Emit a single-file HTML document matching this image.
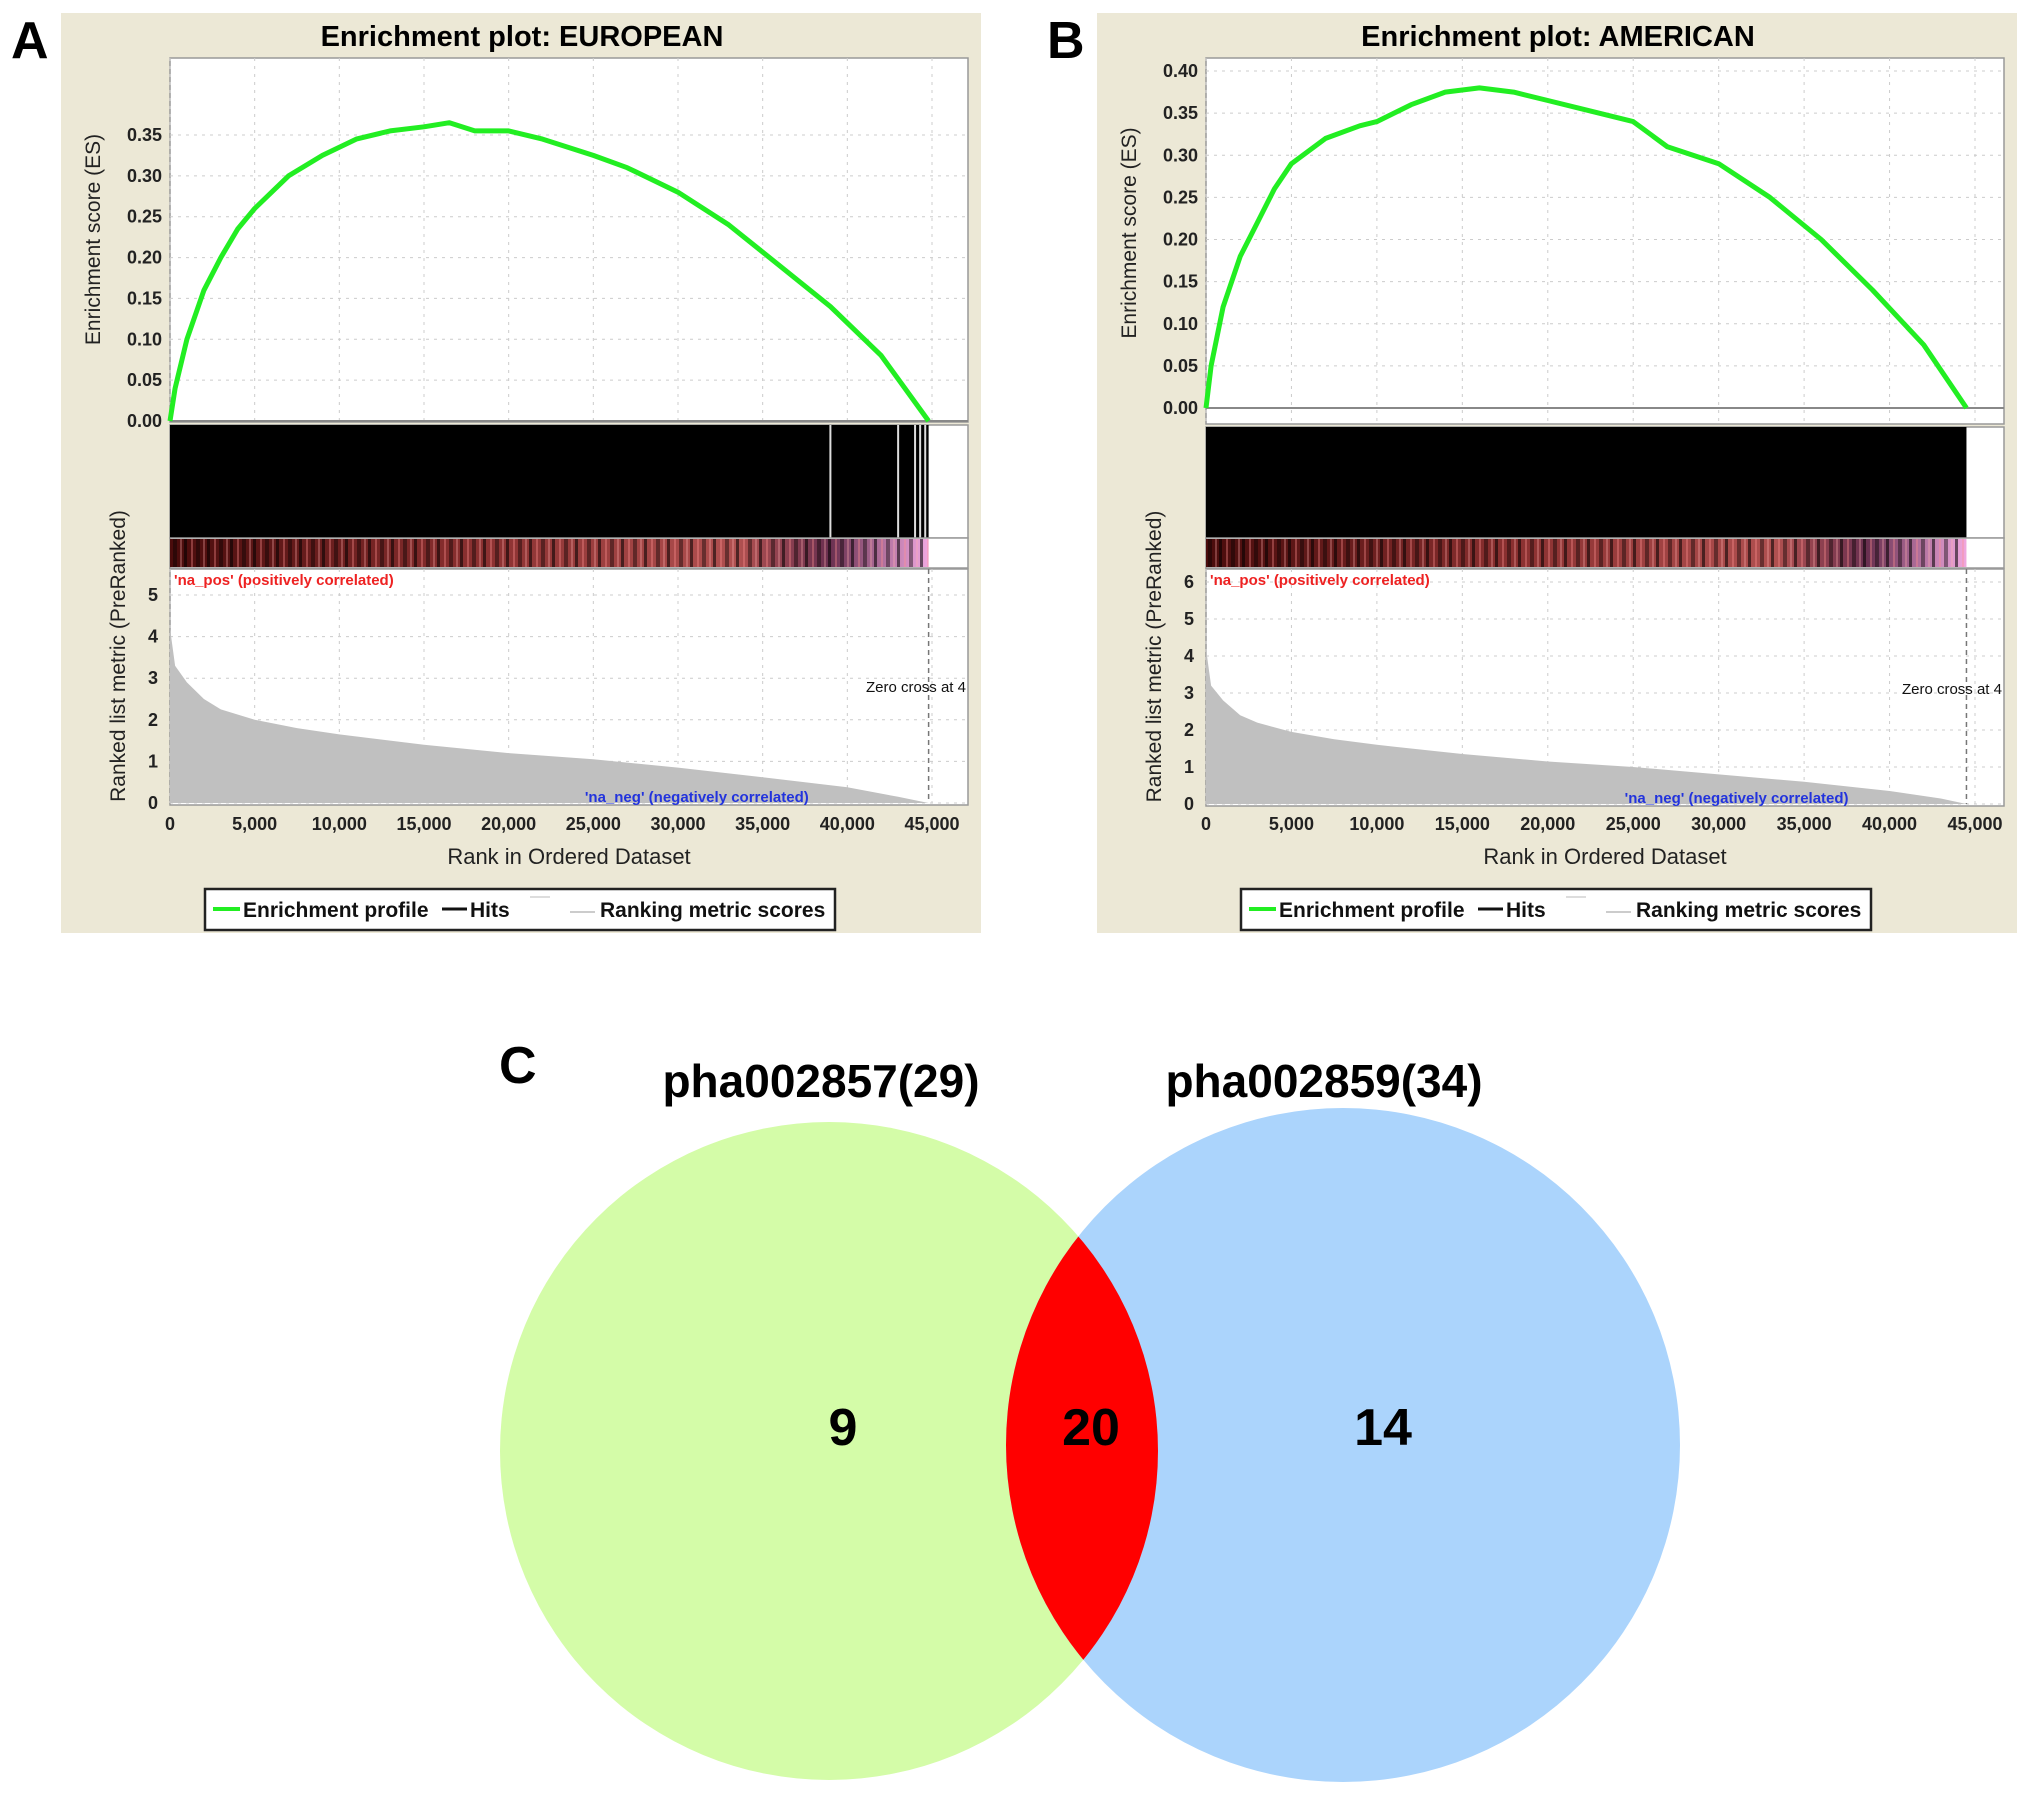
<!DOCTYPE html>
<html><head><meta charset="utf-8"><style>
html,body{margin:0;padding:0;background:#fff;}
svg{display:block;font-family:"Liberation Sans",Arial,sans-serif;}
</style></head><body>
<svg id="fig" width="2031" height="1801" viewBox="0 0 2031 1801" xmlns="http://www.w3.org/2000/svg">
<defs>
<linearGradient id="cbar" x1="0" x2="1" y1="0" y2="0">
<stop offset="0" stop-color="#4a0c0c"/><stop offset="0.4" stop-color="#8a3030"/><stop offset="0.75" stop-color="#b05050"/><stop offset="0.87" stop-color="#6a3050"/><stop offset="1" stop-color="#f0a8e0"/>
</linearGradient>
<pattern id="stripes" width="23" height="10" patternUnits="userSpaceOnUse">
<rect x="0" y="0" width="3" height="10" fill="#000" opacity="0.55"/><rect x="7" y="0" width="2" height="10" fill="#ff9090" opacity="0.35"/><rect x="12" y="0" width="4" height="10" fill="#000" opacity="0.4"/><rect x="19" y="0" width="2" height="10" fill="#ffb0b0" opacity="0.3"/>
</pattern>
</defs>
<g id="panels"></g>
<g id="venn">
<text x="499" y="1083" font-size="52" font-weight="bold">C</text>
<text x="821" y="1097" text-anchor="middle" font-size="46" font-weight="bold" font-family="'Liberation Sans Narrow','Liberation Sans',sans-serif">pha002857(29)</text>
<text x="1324" y="1097" text-anchor="middle" font-size="46" font-weight="bold" font-family="'Liberation Sans Narrow','Liberation Sans',sans-serif">pha002859(34)</text>
<clipPath id="clipL"><circle cx="829" cy="1451" r="329"/></clipPath>
<circle cx="829" cy="1451" r="329" fill="#d4fca8"/>
<circle cx="1343" cy="1445" r="337" fill="#abd4fc"/>
<circle cx="1343" cy="1445" r="337" fill="#ff0000" clip-path="url(#clipL)"/>
<text x="843" y="1445" text-anchor="middle" font-size="52" font-weight="bold">9</text>
<text x="1091" y="1445" text-anchor="middle" font-size="52" font-weight="bold">20</text>
<text x="1383" y="1445" text-anchor="middle" font-size="52" font-weight="bold">14</text>
</g>
</svg>
<script>
// Panel A data (EUROPEAN)
const esRanksA = [0,300,1000,2000,3000,4000,5000,7000,9000,11000,13000,15000,16500,18000,20000,22000,25000,27000,30000,33000,36000,39000,42000,44800];
const esValuesA = [0,0.04,0.10,0.16,0.20,0.235,0.26,0.30,0.325,0.345,0.355,0.36,0.365,0.355,0.355,0.345,0.325,0.31,0.28,0.24,0.19,0.14,0.08,0];
const metricRanksA = [0,300,1000,2000,3000,5000,7500,10000,15000,20000,25000,30000,35000,40000,43000,44800];
const metricValuesA = [4.2,3.3,2.9,2.5,2.25,2.0,1.8,1.65,1.4,1.2,1.05,0.85,0.62,0.38,0.15,0];
const gapRanksA = [39000,43000,44000,44300,44600];
// Panel B data (AMERICAN)
const esRanksB = [0,300,1000,2000,3000,4000,5000,7000,9000,10000,12000,14000,16000,18000,20000,22000,25000,27000,30000,33000,36000,39000,42000,44500];
const esValuesB = [0,0.05,0.12,0.18,0.22,0.26,0.29,0.32,0.335,0.34,0.36,0.375,0.38,0.375,0.365,0.355,0.34,0.31,0.29,0.25,0.20,0.14,0.075,0];
const metricRanksB = [0,300,1000,2000,3000,5000,7500,10000,15000,20000,25000,30000,35000,40000,43000,44500];
const metricValuesB = [4.2,3.2,2.8,2.4,2.2,1.95,1.75,1.6,1.35,1.15,1.0,0.8,0.6,0.35,0.15,0];
const gapRanksB = [];
const xTicks = [0,5000,10000,15000,20000,25000,30000,35000,40000,45000];
const esTicksA = [0,0.05,0.10,0.15,0.20,0.25,0.30,0.35];
const esTicksB = [0,0.05,0.10,0.15,0.20,0.25,0.30,0.35,0.40];
const metTicksA = [0,1,2,3,4,5];
const metTicksB = [0,1,2,3,4,5,6];

const NS='http://www.w3.org/2000/svg';
function mk(parent,tag,attrs){const e=document.createElementNS(NS,tag);for(const k in attrs)e.setAttribute(k,attrs[k]);parent.appendChild(e);return e;}
function txt(parent,s,attrs){const e=mk(parent,'text',attrs);e.textContent=s;return e;}
const root=document.getElementById('panels');

function panel(cfg){
  const g=mk(root,'g',{});
  
  
  const bg=mk(g,'rect',{x:cfg.bx,y:13,width:920,height:920,fill:'#ece8d6'});
  
  
  const L=txt(g,cfg.id,{x:cfg.bx-50,y:58,'font-size':52,'font-weight':'bold'});
  
  
  const T=txt(g,cfg.title,{x:cfg.bx+461,y:46,'font-size':29,'font-weight':'bold','text-anchor':'middle'});
  
  
  const x0=cfg.px0, xr=cfg.pxR;
  const sx=v=>x0+(cfg.px45-x0)*v/45000;
  const esTop=58, esZero=cfg.esZero, esBottom=cfg.esBottom;
  const sy=v=>esZero-(esZero-cfg.esRefY)*v/cfg.esRef;
  mk(g,'rect',{x:x0,y:esTop,width:xr-x0,height:esBottom-esTop,fill:'#fff',stroke:'#999','stroke-width':1.5});
  xTicks.forEach(t=>{const l=mk(g,'line',{x1:sx(t),x2:sx(t),y1:esTop,y2:esBottom,stroke:'#ccc','stroke-dasharray':'3,5'});
    });
  cfg.esTicks.forEach(t=>{const y=sy(t);
    mk(g,'line',{x1:x0,x2:xr,y1:y,y2:y,stroke:'#ccc','stroke-dasharray':'3,5'});
    const lb=txt(g,t.toFixed(2),{x:x0-8,y:y+6,'font-size':18,'font-weight':'bold','text-anchor':'end',fill:'#222'});
    });
  mk(g,'line',{x1:x0,x2:xr,y1:esZero,y2:esZero,stroke:'#888','stroke-width':2});
  let d='';cfg.esR.forEach((r,i)=>{d+=(i?'L':'M')+sx(r).toFixed(1)+','+sy(cfg.esV[i]).toFixed(1);});
  const es=mk(g,'path',{d:d,fill:'none',stroke:'#22ee22','stroke-width':5,'stroke-linejoin':'round'});
  
  
  const ya=txt(g,'Enrichment score (ES)',{x:0,y:0,'font-size':21,'text-anchor':'middle',fill:'#222',transform:`translate(${x0-70},${(esTop+esZero)/2}) rotate(-90)`});
  
  const hTop=esBottom+3, hBot=538;
  mk(g,'rect',{x:x0,y:hTop,width:xr-x0,height:hBot-hTop,fill:'#fff',stroke:'#999','stroke-width':1.5});
  const hits=mk(g,'rect',{x:x0,y:hTop,width:sx(cfg.hitEnd)-x0,height:hBot-hTop,fill:'#000'});
  
  cfg.gaps.forEach(r=>{const l=mk(g,'line',{x1:sx(r),x2:sx(r),y1:hTop,y2:hBot,stroke:'#ddd','stroke-width':2});
    });
  mk(g,'rect',{x:x0,y:538,width:xr-x0,height:30,fill:'#fff',stroke:'#999','stroke-width':1.5});
  const cb=mk(g,'rect',{x:x0,y:539,width:sx(cfg.hitEnd)-x0,height:28,fill:'url(#cbar)'});
  
  mk(g,'rect',{x:x0,y:539,width:sx(cfg.hitEnd)-x0,height:28,fill:'url(#stripes)'});
  const mTop=569, mZero=cfg.mZero;
  const my=v=>mZero-(mZero-cfg.mRefY)*v/cfg.mRef;
  mk(g,'rect',{x:x0,y:mTop,width:xr-x0,height:mZero+2-mTop,fill:'#fff',stroke:'#999','stroke-width':1.5});
  xTicks.forEach(t=>{mk(g,'line',{x1:sx(t),x2:sx(t),y1:mTop,y2:mZero,stroke:'#ccc','stroke-dasharray':'3,5'});});
  cfg.mTicks.forEach(t=>{const y=my(t);
    mk(g,'line',{x1:x0,x2:xr,y1:y,y2:y,stroke:'#ccc','stroke-dasharray':'3,5'});
    const lb=txt(g,String(t),{x:x0-12,y:y+6,'font-size':18,'font-weight':'bold','text-anchor':'end',fill:'#222'});
    });
  let a='M'+sx(0)+','+mZero;cfg.mR.forEach((r,i)=>{a+='L'+sx(r).toFixed(1)+','+my(cfg.mV[i]).toFixed(1);});a+='Z';
  const area=mk(g,'path',{d:a,fill:'#c0c0c0'});
  
  mk(g,'line',{x1:sx(cfg.hitEnd),x2:sx(cfg.hitEnd),y1:mTop,y2:mZero,stroke:'#777','stroke-dasharray':'5,4','stroke-width':1.5});
  const zc=txt(g,'Zero cross at 4',{x:xr-2,y:cfg.zcY,'font-size':15,'text-anchor':'end',fill:'#111'});
  
  const np=txt(g,"'na_pos' (positively correlated)",{x:x0+4,y:585,'font-size':15,'font-weight':'bold',fill:'#ee2222'});
  
  const nn=txt(g,"'na_neg' (negatively correlated)",{x:sx(24500),y:mZero-1,'font-size':15,'font-weight':'bold',fill:'#2233dd'});
  
  const ya2=txt(g,'Ranked list metric (PreRanked)',{x:0,y:0,'font-size':21,'text-anchor':'middle',fill:'#222',transform:`translate(${x0-45},${(mTop+mZero)/2-30}) rotate(-90)`});
  
  xTicks.forEach(t=>{const lb=txt(g,t.toLocaleString('en-US'),{x:sx(t),y:830,'font-size':18,'font-weight':'bold','text-anchor':'middle',fill:'#222'});
    });
  const xa=txt(g,'Rank in Ordered Dataset',{x:(x0+xr)/2,y:864,'font-size':22,'text-anchor':'middle',fill:'#222'});
  
  const lg=mk(g,'g',{});
  
  const lx=cfg.bx+144;
  mk(lg,'rect',{x:lx,y:889,width:630,height:41,fill:'#fff',stroke:'#222','stroke-width':2.5});
  mk(lg,'line',{x1:lx+8,x2:lx+35,y1:909,y2:909,stroke:'#22ee22','stroke-width':4});
  txt(lg,'Enrichment profile',{x:lx+38,y:917,'font-size':21,'font-weight':'bold',fill:'#111'});
  mk(lg,'line',{x1:lx+237,x2:lx+262,y1:909,y2:909,stroke:'#111','stroke-width':3});
  txt(lg,'Hits',{x:lx+265,y:917,'font-size':21,'font-weight':'bold',fill:'#111'});
  mk(lg,'line',{x1:lx+325,x2:lx+345,y1:897,y2:897,stroke:'#ddd','stroke-width':2});
  mk(lg,'line',{x1:lx+365,x2:lx+390,y1:912,y2:912,stroke:'#ccc','stroke-width':2});
  txt(lg,'Ranking metric scores',{x:lx+395,y:917,'font-size':21,'font-weight':'bold',fill:'#111'});
}
panel({id:'A',title:'Enrichment plot: EUROPEAN',bx:61,px0:170,pxR:968,px45:932,esZero:421,esRef:0.35,esRefY:135,esBottom:422,
  esTicks:esTicksA,esR:esRanksA,esV:esValuesA,hitEnd:44800,gaps:gapRanksA,mZero:803,mRef:5,mRefY:595,mTicks:metTicksA,mR:metricRanksA,mV:metricValuesA,zcY:692});
panel({id:'B',title:'Enrichment plot: AMERICAN',bx:1097,px0:1206,pxR:2004,px45:1975,esZero:408,esRef:0.40,esRefY:71,esBottom:424,
  esTicks:esTicksB,esR:esRanksB,esV:esValuesB,hitEnd:44500,gaps:gapRanksB,mZero:804,mRef:6,mRefY:582,mTicks:metTicksB,mR:metricRanksB,mV:metricValuesB,zcY:694});
</script>
</body></html>
